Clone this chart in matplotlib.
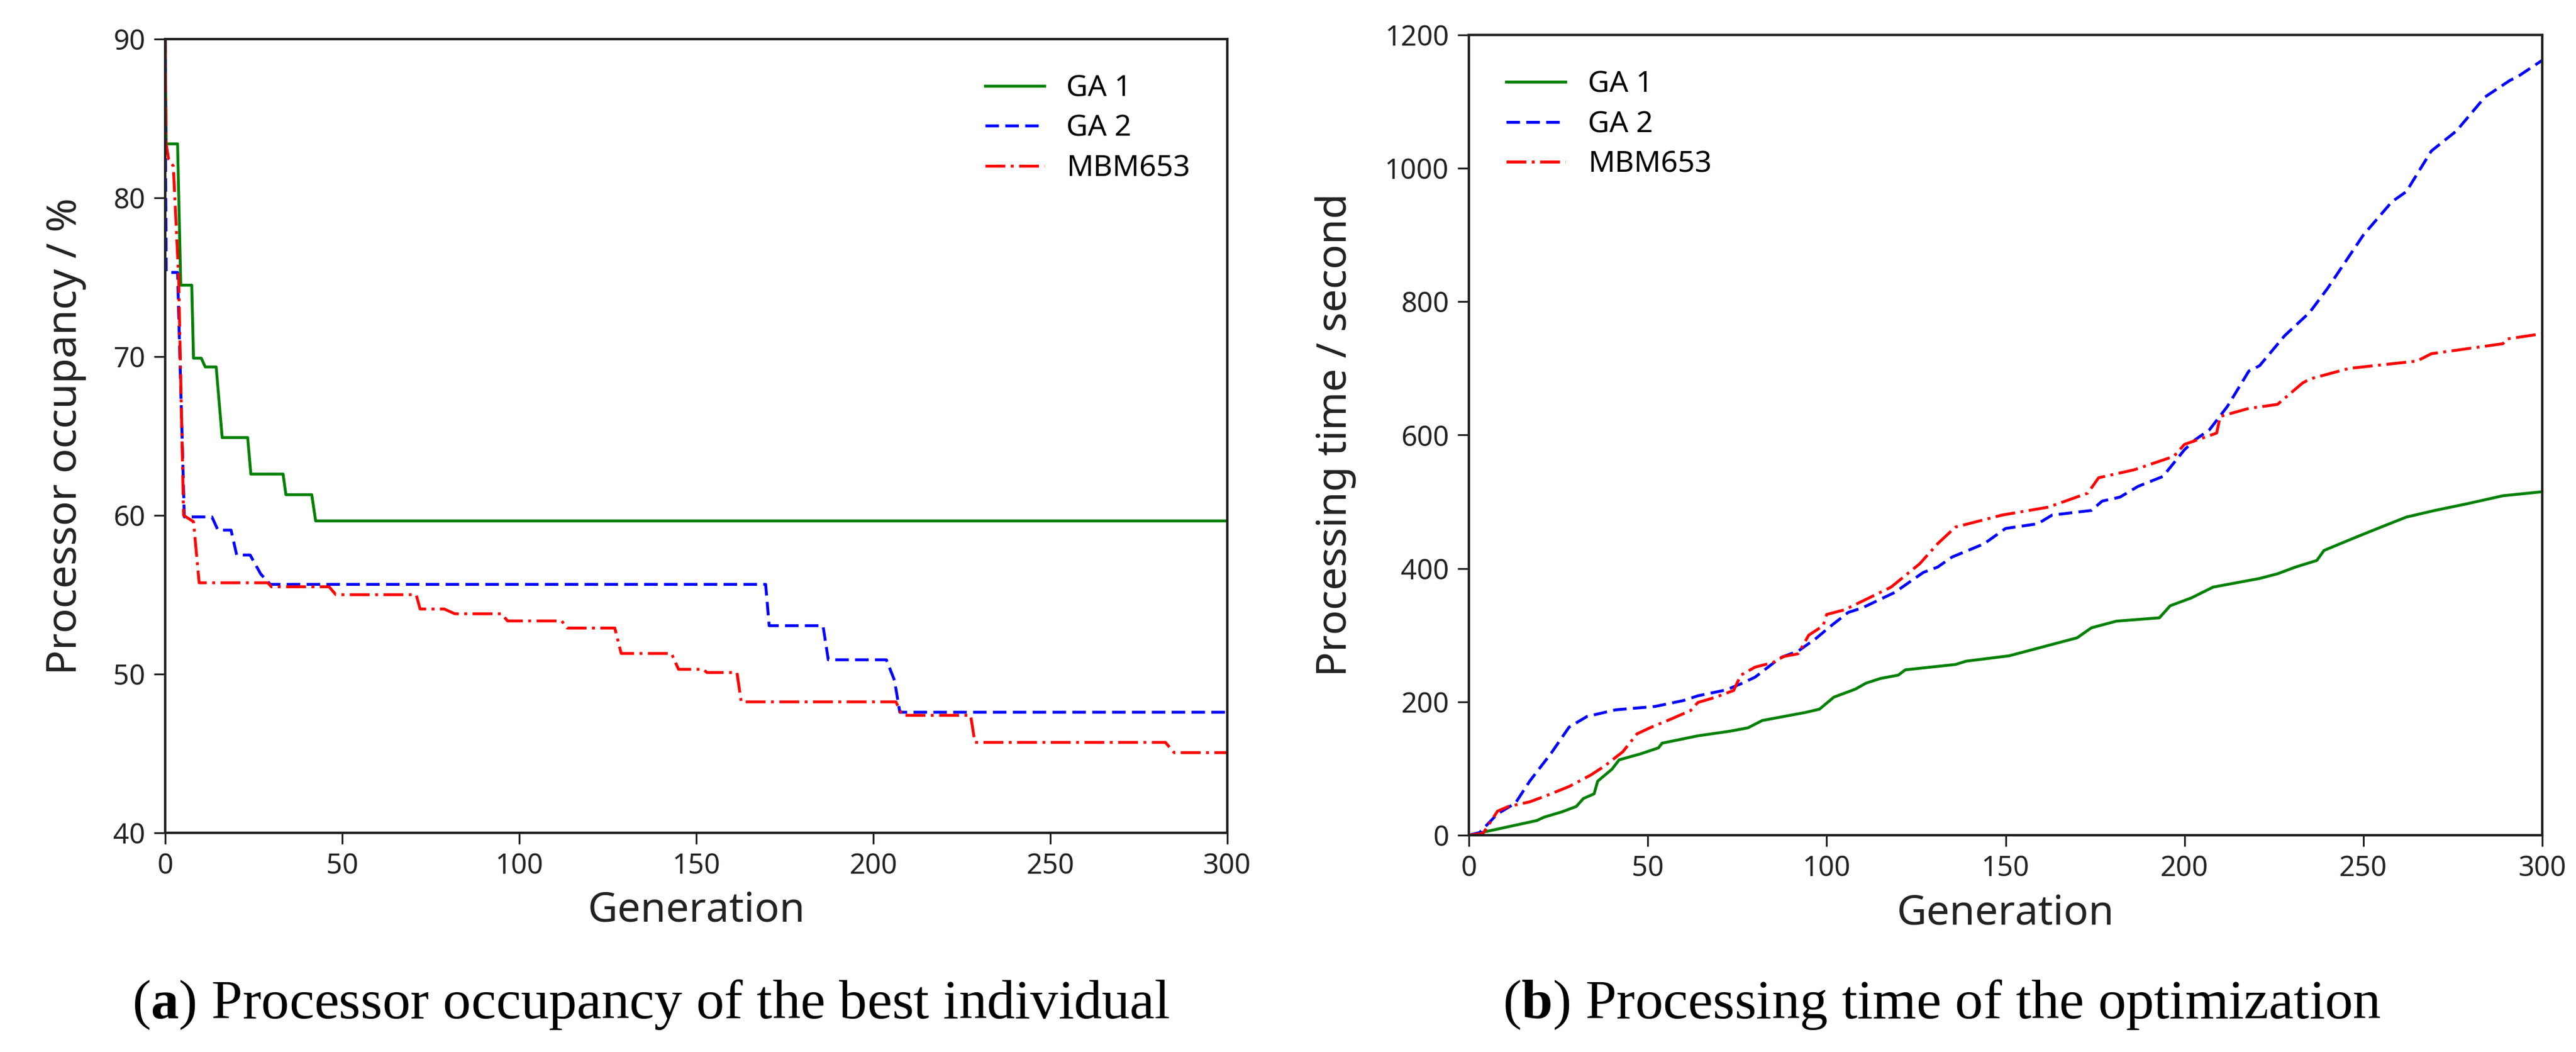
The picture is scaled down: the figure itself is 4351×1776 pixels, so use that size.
import matplotlib
matplotlib.use("Agg")
import matplotlib.pyplot as plt

plt.rcParams["font.family"] = ["Noto Sans", "DejaVu Sans"]
plt.rcParams["mathtext.fontset"] = "custom"
plt.rcParams["mathtext.rm"] = "Liberation Serif"
plt.rcParams["mathtext.bf"] = "Liberation Serif:bold"

# (a) processor occupancy of the best individual, step-like curves
occ_ga1_gen = [0, 0.3, 3.5, 4.4, 7.5, 8.0, 10.2, 11.3, 14.4, 16.1, 23.3, 24.2, 33.3, 34.1, 41.4, 42.5, 300]
occ_ga1_val = [90, 83.4, 83.4, 74.5, 74.5, 69.9, 69.9, 69.35, 69.35, 64.9, 64.9, 62.6, 62.6, 61.3, 61.3, 59.65, 59.65]

occ_ga2_gen = [0, 0.1, 0.3, 3.5, 5.4, 13.2, 14.9, 18.6, 20.2, 24, 27, 29.7, 169.6, 170.6, 185.8, 187.3, 203.7,
               206, 207.5, 300]
occ_ga2_val = [90, 82.5, 75.3, 75.3, 59.9, 59.9, 59.07, 59.07, 57.5, 57.5, 56.3, 55.65, 55.65, 53.05, 53.05, 50.9,
               50.9, 49.6, 47.6, 47.6]

occ_mbm_gen = [0, 0.2, 1.0, 2.3, 3.8, 5.2, 8.0, 9.6, 29, 30, 46.3, 48.2, 70.9, 72, 78.8, 81.8, 95, 96.7, 112,
               113.5, 127, 128.8, 143, 145, 152, 153, 161.5, 162.7, 206.4, 208.2, 227.5, 228.7, 282.5, 285, 300]
occ_mbm_val = [90, 83.5, 82.4, 82.0, 75, 60, 59.6, 55.75, 55.75, 55.5, 55.5, 55.0, 55.0, 54.1, 54.1, 53.8, 53.8,
               53.35, 53.35, 52.9, 52.9, 51.3, 51.3, 50.3, 50.3, 50.1, 50.1, 48.25, 48.25, 47.4, 47.4, 45.7, 45.7,
               45.05, 45.05]

# (b) processing time of the optimization
time_ga1_gen = [0, 7, 19, 21, 26, 30, 32, 35, 36, 40, 42, 48, 53, 54, 64, 73, 78, 82, 89, 94, 98, 100, 102, 108,
                111, 115, 120, 122, 136, 139, 151, 170, 174, 181, 193, 196, 202, 208, 221, 226, 231, 237, 239,
                248, 254, 262, 270, 279, 289, 300]
time_ga1_val = [0, 8, 22, 27, 35, 43, 55, 62, 81, 99, 113, 122, 131, 138, 149, 156, 161, 172, 179, 184, 189, 198,
                207, 219, 228, 235, 240, 248, 256, 261, 269, 296, 311, 321, 326, 344, 356, 372, 385, 392, 402, 412,
                427, 447, 460, 477, 487, 497, 509, 515]

time_ga2_gen = [0, 3, 8, 13, 17, 23, 28, 33, 41, 52, 60, 64, 72, 76, 80, 87, 92, 97, 101, 106, 110, 119, 127, 131,
                135, 144, 150, 159, 163, 174, 177, 182, 187, 194, 200, 203, 207, 212, 218, 221, 228, 235, 240,
                250, 258, 262, 269, 276, 284, 291, 293, 300]
time_ga2_val = [0, 4, 32, 48, 81, 123, 162, 178, 188, 193, 202, 209, 218, 227, 237, 266, 276, 295, 313, 334, 341,
                364, 394, 402, 417, 437, 460, 467, 480, 487, 501, 507, 523, 538, 578, 593, 608, 643, 696, 704, 749,
                784, 820, 900, 950, 965, 1026, 1056, 1107, 1132, 1137, 1162]

time_mbm_gen = [0, 4, 8, 11, 17, 22, 28, 34, 38, 43, 47, 51, 56, 62, 64, 69, 74, 76, 80, 85, 88, 92, 95, 99, 100,
                105, 110, 118, 126, 131, 136, 149, 162, 173, 176, 186, 197, 200, 209, 210, 218, 226, 233, 235, 246,
                265, 269, 289, 290, 300]
time_mbm_val = [0, 3, 36, 43, 50, 60, 73, 90, 104, 125, 152, 162, 173, 187, 199, 207, 217, 240, 252, 259, 268, 272,
                300, 314, 331, 338, 351, 372, 407, 437, 462, 480, 492, 513, 536, 548, 568, 586, 603, 628, 640, 646,
                678, 684, 700, 711, 722, 737, 744, 752]

labels = ["GA 1", "GA 2", "MBM653"]
captions = [r"($\mathbf{a}$) Processor occupancy of the best individual",
            r"($\mathbf{b}$) Processing time of the optimization"]

W, H = 4351, 1776
fig = plt.figure(figsize=(W / 100, H / 100), dpi=100)
ax1 = fig.add_axes([279 / W, 1 - 1406 / H, 1794 / W, 1340 / H])
ax2 = fig.add_axes([2481 / W, 1 - 1410 / H, 1813 / W, 1351 / H])

styles = [dict(color="g", ls="-"),
          dict(color="b", ls="--", dashes=(4.7, 2.2)),
          dict(color="r", ls="-.", dashes=(6.9, 1.9, 1.0, 1.9))]

for (x, y), lab, st in zip([(occ_ga1_gen, occ_ga1_val), (occ_ga2_gen, occ_ga2_val), (occ_mbm_gen, occ_mbm_val)],
                           labels, styles):
    ax1.plot(x, y, lw=3.5, label=lab, **st)
for (x, y), lab, st in zip([(time_ga1_gen, time_ga1_val), (time_ga2_gen, time_ga2_val),
                            (time_mbm_gen, time_mbm_val)], labels, styles):
    ax2.plot(x, y, lw=3.5, label=lab, **st)

ax1.set_xlim(0, 300)
ax1.set_ylim(40, 90)
ax1.set_yticks([40, 50, 60, 70, 80, 90])
ax2.set_xlim(0, 300)
ax2.set_ylim(0, 1200)
ax2.set_yticks(range(0, 1201, 200))

for ax in (ax1, ax2):
    ax.set_xticks(range(0, 301, 50))
    ax.tick_params(labelsize=34, length=14, width=2.2, pad=10, color="#222222", labelcolor="#222222")
    for sp in ax.spines.values():
        sp.set_linewidth(3)
        sp.set_color("#222222")
    ax.set_xlabel("Generation", fontsize=50, color="#222222")
    ax.xaxis.set_label_coords(0.5, -0.072)

ax1.set_ylabel("Processor occupancy / %", fontsize=50, color="#222222")
ax1.yaxis.set_label_coords(-0.074, 0.5)
ax2.set_ylabel("Processing time / second", fontsize=50, color="#222222")
ax2.yaxis.set_label_coords(-0.105, 0.5)

leg_kw = dict(frameon=False, fontsize=36, handlelength=2.0, handletextpad=0.75, labelspacing=0.35)
ax1.legend(loc="upper right", bbox_to_anchor=(0.99, 0.99), **leg_kw)
ax2.legend(loc="upper left", bbox_to_anchor=(0.01, 0.99), **leg_kw)

fig.text(1100 / W, 1 - 1719 / H, captions[0], fontsize=68, ha="center", va="baseline",
         family="Liberation Serif")
fig.text(3280 / W, 1 - 1719 / H, captions[1], fontsize=68, ha="center", va="baseline",
         family="Liberation Serif")

fig.savefig("out.png", dpi=100, facecolor="white")
